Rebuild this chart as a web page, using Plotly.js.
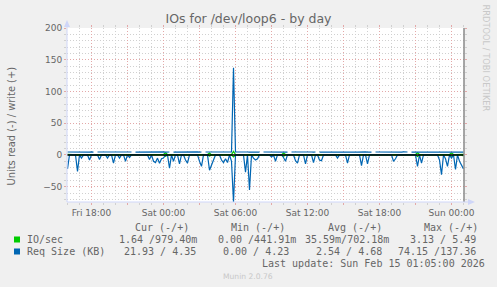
<!DOCTYPE html>
<html><head><meta charset="utf-8">
<script src="https://cdn.plot.ly/plotly-3.0.1.min.js"></script>
<style>html,body{margin:0;padding:0;background:#F0F0F0;}#chart{width:497px;height:287px;}</style>
</head><body><div id="chart"></div>
<script>
// ---- data (10-minute samples from Fri 13 Feb 2026 16:00) ----
const startTime = Date.UTC(2026, 1, 13, 16, 0, 0);
const stepMinutes = 10;

const reqReadKB = [
-22,0,0,0,0,-26,0,-5,0,0, 0,-8,0,0,0,0,-7,0,0,0,
-5,0,0,-13,0,0,-5,0,0,-10, 0,-4,0,0,0,0,0,0,0,0,
0,-7,0,-10,-12,-5,-13,-6,-5,0, 0,-21,0,-10,0,0,-14,0,0,-8,
-13,0,0,0,0,0,-10,-18,0,0, 0,-24,-16,-8,0,0,0,-8,-12,-6,
-12,0,-10,-74.15,0,0,0,0,0,-27, 0,-55,0,-5,-8,-6,0,0,0,0,
0,0,-3,0,-10,0,0,0,-4,-10, 0,0,0,0,-9,-13,0,0,0,-14,
0,0,0,-12,0,0,-8,-9,0,0, 0,0,0,0,0,-5,0,0,0,0,
-13,0,0,0,0,0,0,-17,0,0, -14,0,0,0,0,0,0,0,0,0,
0,0,0,-10,-6,0,0,0,0,0, 0,0,0,0,0,-18,0,-13,0,0,
0,0,0,0,0,0,-8,-31,0,-6, -18,0,-5,0,-23,0,-10,-17,-21.93
];

const reqWriteKB = [
4.6,4.5,4.5,4.4,4.7,4.6,4.5,4.8,4.6,4.5,
4.5,4.4,4.7,4.5,null,4.6,4.6,4.5,4.8,4.6,
4.5,4.5,4.7,4.4,4.5,4.6,4.5,4.8,4.6,4.5,
4.7,4.5,4.6,null,4.5,4.6,4.6,4.5,4.7,4.4,
4.5,4.6,4.5,4.7,4.6,4.5,4.5,4.6,4.8,4.5,
4.7,4.6,null,4.5,4.6,4.5,4.7,4.6,4.5,4.5,
4.6,4.5,4.7,4.6,4.5,4.7,4.5,4.6,null,4.6,
4.5,4.8,4.6,4.5,4.7,4.6,4.5,4.6,4.5,4.7,
4.5,4.6,4.6,137.36,4.7,4.5,4.6,4.5,4.6,4.4,
4.6,4.5,4.7,4.7,4.5,4.6,4.5,null,4.6,4.5,
4.6,4.5,4.7,4.5,4.6,4.5,4.7,4.6,4.6,4.5,
4.5,null,4.6,4.7,4.5,4.6,4.8,4.5,4.6,4.6,
4.5,4.7,4.6,4.5,4.6,null,4.5,4.6,4.7,4.5,
4.6,4.23,4.7,4.5,4.6,4.5,4.7,4.6,4.6,4.5,
4.7,4.5,4.6,4.5,4.6,4.5,4.8,4.6,4.5,4.7,
4.5,4.6,4.5,null,4.6,4.5,4.6,4.5,4.7,4.6,
4.5,4.6,4.5,4.6,4.5,4.7,4.6,4.5,4.7,4.5,
4.6,null,4.5,4.6,4.6,4.5,4.7,4.5,4.6,4.5,
4.5,4.6,4.7,4.5,4.5,4.6,4.5,4.7,4.5,4.6,
4.5,4.5,4.6,4.4,4.7,4.5,4.6,4.5,4.35
];

const ioWrite = [
0.8,0.6,0,0.6,0.7,0,0.6,0.7,0.6,0,
0.7,0.6,0.8,0.6,0,0,0.6,0.7,0.6,0,
0,0.6,0.7,0.6,0,0.6,0.7,0.6,0,0.6,
0.7,0.6,0,0,0,0,0.6,0.7,0.6,0.7,
0,0.6,0.7,0.6,0,0,0.7,0.6,0.8,3.5,
0.7,0,0,0,0.6,0.7,0.6,0,0,0.6,
0.7,0,0,0,0,0.6,0.7,0.6,0,0,
0.6,3.0,0,0,0,0,0,0.6,0.7,0.6,
0.7,0,0.6,5.49,0.7,0,0,0.6,0.7,0.6,
0,0,0,0.6,0.7,0.6,0.7,0,0,0,
0.6,0.7,0.6,0.7,0,0,0,0,3.0,0.7,
0,0,0,0.6,0.7,0.6,0.7,0.6,0,0.6,
0.7,0.6,0,0,0,0,0,0,0,0.6,
0.7,0.6,0.7,0.6,0,0,0,0,0.6,0.7,
0.6,0.7,0,0,0.6,0.7,0.6,0.7,0.6,0.7,
0.6,0,0,0,0,0,0.6,0.7,0.6,0,
0,0,0.6,0.7,0.6,0,0,0,0.6,0.7,
0,0,0,0,0.6,3.5,0.7,0.6,0,0,
0,0,0,0,0.6,0.7,0,0.6,0.7,0.6,
0,0.6,3.2,0.7,0.6,0.7,0.6,0.7,0.98
];

const ioRead = [
0,0,0,0,0,0,0,0,0,0, 0,0,0,0,0,0,0,0,0,0,
0,0,0,0,0,0,0,0,0,0, 0,0,0,0,0,0,0,0,0,0,
0,0,0,0,0,0,0,0,0,-2, 0,0,0,0,0,0,0,0,0,0,
0,0,0,0,0,0,0,0,0,0, 0,-1.8,0,0,0,0,0,0,0,0,
0,0,0,-3.13,0,0,0,0,0,0, 0,0,0,0,0,0,0,0,0,0,
0,0,0,0,0,0,0,0,-2,0, 0,0,0,0,0,0,0,0,0,0,
0,0,0,0,0,0,0,0,0,0, 0,0,0,0,0,0,0,0,0,0,
0,0,0,0,0,0,0,0,0,0, 0,0,0,0,0,0,0,0,0,0,
0,0,0,0,0,0,0,0,0,0, 0,0,0,0,0,-2.5,0,0,0,0,
0,0,0,0,0,0,0,0,0,0, 0,0,-2.2,0,0,0,0,0,-1.64
];

const tickVals = ['2026-02-13 18:00','2026-02-13 21:00','2026-02-14 00:00','2026-02-14 03:00',
  '2026-02-14 06:00','2026-02-14 09:00','2026-02-14 12:00','2026-02-14 15:00',
  '2026-02-14 18:00','2026-02-14 21:00','2026-02-15 00:00'];
const tickText = ['Fri 18:00','','Sat 00:00','','Sat 06:00','','Sat 12:00','','Sat 18:00','','Sun 00:00'];

const seriesNames = ['IO/sec', 'Req Size (KB)'];
const seriesColors = ['#00CC00', '#0066B3'];
const statHeaders = ['Cur (-/+)', 'Min (-/+)', 'Avg (-/+)', 'Max (-/+)'];
const ioSecStats = ['1.64 /979.40m', '0.00 /441.91m', '35.59m/702.18m', '3.13 / 5.49'];
const reqSizeStats = ['21.93 / 4.35', '0.00 / 4.23', '2.54 / 4.68', '74.15 /137.36'];
const lastUpdate = 'Last update: Sun Feb 15 01:05:00 2026';

// ---- build ----
function fmt(ms) {
  const d = new Date(ms), p = n => String(n).padStart(2, '0');
  return d.getUTCFullYear() + '-' + p(d.getUTCMonth() + 1) + '-' + p(d.getUTCDate()) + ' ' +
         p(d.getUTCHours()) + ':' + p(d.getUTCMinutes()) + ':00';
}
const times = reqReadKB.map((_, i) => fmt(startTime + i * stepMinutes * 60000));

const L = 67, R = 464, T = 28, B = 202;
const ax = px => (px - L) / (R - L);
const ay = py => (B - py) / (B - T);

const FONT = '#666666';
const mono = {family: 'DejaVu Sans Mono', size: 10, color: FONT};
const line = (y, c) => ({x: times, y: y, type: 'scatter', mode: 'lines',
  line: {color: c, width: 1.2}, hoverinfo: 'skip', connectgaps: false});

const traces = [line(ioRead, seriesColors[0]), line(ioWrite, seriesColors[0]),
                line(reqReadKB, seriesColors[1]), line(reqWriteKB, seriesColors[1])];

const ann = [];
function txt(t, px, py, opts) {
  ann.push(Object.assign({text: t, x: ax(px), y: ay(py), xref: 'paper', yref: 'paper',
    showarrow: false, xanchor: 'left', yanchor: 'middle', borderpad: 0, font: mono}, opts || {}));
}
txt('Units read (-) / write (+)', 10.5, 126, {xanchor: 'center', textangle: -90,
  font: {family: 'DejaVu Sans', size: 9.9, color: FONT}});
txt('RRDTOOL / TOBI OETIKER', 486, 57.5, {xanchor: 'center', textangle: 90,
  font: {family: 'DejaVu Sans', size: 8.3, color: '#C8C8C8'}});
const hdrX = [134.3, 230, 326.7, 422.7];
statHeaders.forEach((h, i) => txt(h, hdrX[i], 227.7));
txt(seriesNames[0], 26, 239.3);
txt(seriesNames[1], 26, 251.7);
const rows = [
  {stats: ioSecStats, y: 239.3, ends: [198.3, 296.7, 390, 476.7]},
  {stats: reqSizeStats, y: 251.7, ends: [197, 290, 383, 476.7]}
];
rows.forEach(r => r.stats.forEach((s, i) => txt(s, r.ends[i], r.y, {xanchor: 'right'})));
txt(lastUpdate, 261, 263.3);
txt('Munin 2.0.76', 248, 276, {xanchor: 'center', font: {family: 'DejaVu Sans', size: 7.6, color: '#C8C8C8'}});

const AX = '#CFD6F8';
const shapes = [
  {type: 'line', xref: 'paper', yref: 'y', x0: 0, x1: 1, y0: 0, y1: 0, line: {color: '#000000', width: 1.6}, layer: 'above'},
  {type: 'line', xref: 'paper', yref: 'paper', x0: 1, x1: 1, y0: 0, y1: 1, line: {color: '#8A8A8A', width: 1.5}, layer: 'above'},
  {type: 'line', xref: 'paper', yref: 'paper', x0: 0, x1: 0, y0: 0, y1: ay(24), line: {color: AX, width: 1}, layer: 'above'},
  {type: 'line', xref: 'paper', yref: 'paper', x0: 0, x1: ax(471), y0: 0, y1: 0, line: {color: AX, width: 1}, layer: 'above'},
  {type: 'path', xref: 'paper', yref: 'paper', layer: 'above', line: {width: 0}, fillcolor: AX,
   path: `M ${ax(64)} ${ay(27)} L ${ax(70)} ${ay(27)} L ${ax(67)} ${ay(20)} Z`},
  {type: 'path', xref: 'paper', yref: 'paper', layer: 'above', line: {width: 0}, fillcolor: AX,
   path: `M ${ax(468)} ${ay(199)} L ${ax(468)} ${ay(205)} L ${ax(475)} ${ay(202)} Z`},
  {type: 'rect', xref: 'paper', yref: 'paper', x0: ax(14), x1: ax(20), y0: ay(242.5), y1: ay(236.5),
   fillcolor: seriesColors[0], line: {width: 0}},
  {type: 'rect', xref: 'paper', yref: 'paper', x0: ax(14), x1: ax(20), y0: ay(254.5), y1: ay(248.5),
   fillcolor: seriesColors[1], line: {width: 0}}
];

const MAJ = '#E3A8A8', MIN = '#D0D0D0', DASH = '1px,2px';
const layout = {
  width: 497, height: 287,
  margin: {l: L, r: 497 - R, t: T, b: 287 - B},
  paper_bgcolor: '#F0F0F0', plot_bgcolor: '#FFFFFF',
  showlegend: false,
  title: {text: 'IOs for /dev/loop6 - by day', x: 0.5, xref: 'container', xanchor: 'center',
    y: 1 - 19 / 287, yref: 'container', yanchor: 'middle',
    font: {family: 'DejaVu Sans', size: 12.5, color: FONT}},
  xaxis: {type: 'date', range: ['2026-02-13 15:57:30', '2026-02-15 01:02:30'],
    tickmode: 'array', tickvals: tickVals, ticktext: tickText,
    showgrid: true, gridcolor: MAJ, griddash: DASH, gridwidth: 1,
    zeroline: false, showline: false, ticks: 'outside', ticklen: 2, tickcolor: MAJ, mirror: 'ticks',
    tickfont: {family: 'DejaVu Sans', size: 9, color: FONT},
    minor: {dtick: 3600000, tick0: '2026-02-13 00:00:00', showgrid: true, gridcolor: MIN,
      griddash: DASH, ticks: 'outside', ticklen: 2, tickcolor: MIN},
    fixedrange: true},
  yaxis: {range: [-74.15, 200], tickmode: 'linear', tick0: 0, dtick: 50,
    showgrid: true, gridcolor: MAJ, griddash: DASH, gridwidth: 1,
    zeroline: false, showline: false, ticks: 'outside', ticklen: 2, tickcolor: MAJ, mirror: 'ticks',
    tickfont: {family: 'DejaVu Sans', size: 9, color: FONT},
    minor: {dtick: 10, tick0: 0, showgrid: true, gridcolor: MIN, griddash: DASH,
      ticks: 'outside', ticklen: 2, tickcolor: MIN},
    fixedrange: true},
  annotations: ann,
  shapes: shapes
};

Plotly.newPlot('chart', traces, layout, {displayModeBar: false, staticPlot: true});
</script>
</body></html>
